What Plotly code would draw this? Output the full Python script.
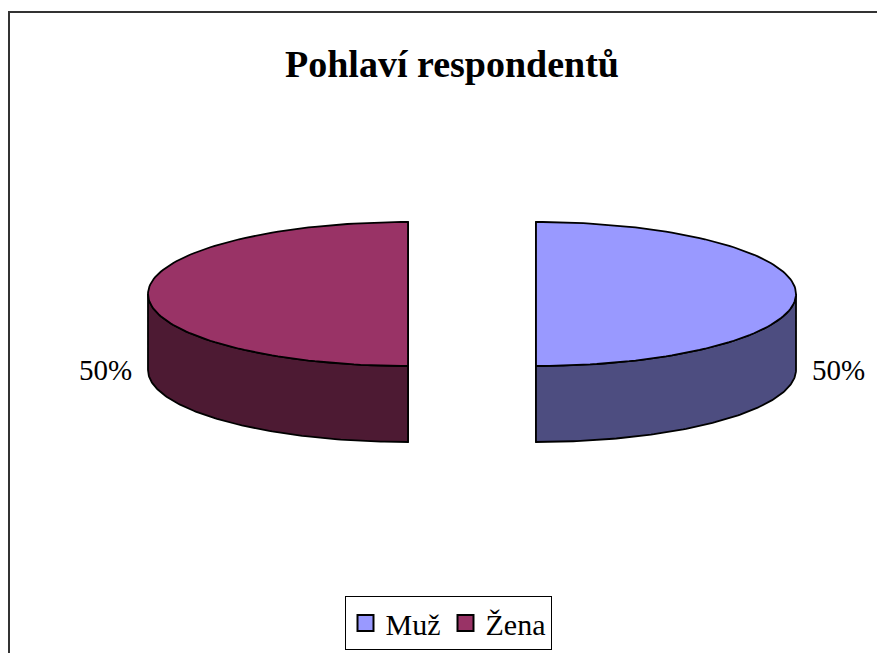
import math
import plotly.graph_objects as go

# ---- data ----
categories = ["Muž", "Žena"]
values = [50, 50]
top_colors = ["#9999FF", "#993366"]
side_colors = ["#4D4D80", "#4D1A33"]
title_text = "Pohlaví respondentů"

# ---- geometry (page pixel space; page has an 8px body margin) ----
W, H = 885, 653
OFF = 8
CX, CY = 472, 294      # pie centre (top face)
RX, RY = 260, 72       # ellipse radii
DEPTH = 76             # thickness
EXPLODE = 64           # explode distance (horizontal units)
FONT = "Liberation Serif, Times New Roman, serif"

total = sum(values)
fig = go.Figure()


def pt(cx, cy, th, dz=0.0):
    return cx + RX * math.sin(th), cy - RY * math.cos(th) + dz


def arc(cx, cy, a0, a1, dz=0.0, n=120):
    xs, ys = [], []
    for i in range(n + 1):
        t = a0 + (a1 - a0) * i / n
        x, y = pt(cx, cy, t, dz)
        xs.append(x)
        ys.append(y)
    return xs, ys


annotations = []
start = 0.0
for cat, v, tc, sc in zip(categories, values, top_colors, side_colors):
    frac = v / total
    a0 = start * 2 * math.pi
    a1 = (start + frac) * 2 * math.pi
    mid = (a0 + a1) / 2
    start += frac
    cx = CX + EXPLODE * math.sin(mid)
    cy = CY - EXPLODE * RY / RX * math.cos(mid)

    # radial faces
    for a in (a0, a1):
        ex, ey = pt(cx, cy, a)
        fig.add_trace(go.Scatter(
            x=[cx, ex, ex, cx, cx], y=[cy, ey, ey + DEPTH, cy + DEPTH, cy],
            mode="lines", fill="toself", fillcolor=sc,
            line=dict(color="black", width=1.8), hoverinfo="skip", showlegend=False))

    # front outer wall
    lo, hi = max(a0, math.pi / 2), min(a1, 3 * math.pi / 2)
    if hi > lo:
        tx, ty = arc(cx, cy, lo, hi)
        bx, by = arc(cx, cy, lo, hi, DEPTH)
        fig.add_trace(go.Scatter(
            x=tx + bx[::-1] + [tx[0]], y=ty + by[::-1] + [ty[0]],
            mode="lines", fill="toself", fillcolor=sc,
            line=dict(color="black", width=1.8), hoverinfo="skip", showlegend=False))

    # top face
    tx, ty = arc(cx, cy, a0, a1)
    fig.add_trace(go.Scatter(
        x=[cx] + tx + [cx], y=[cy] + ty + [cy],
        mode="lines", fill="toself", fillcolor=tc,
        line=dict(color="black", width=1.8), hoverinfo="skip", showlegend=False))

    # data label
    lx, ly = pt(cx, cy, mid, DEPTH)
    right = math.sin(mid) >= 0
    annotations.append(dict(
        x=lx + (14 if right else -14), y=ly, xref="x", yref="y",
        text=f"{round(frac * 100)}%", showarrow=False,
        xanchor="left" if right else "right", yanchor="middle",
        font=dict(family=FONT, size=29, color="black")))

# legend entries
for cat, tc in zip(categories, top_colors):
    fig.add_trace(go.Scatter(
        x=[None], y=[None], mode="markers", name=cat,
        marker=dict(symbol="square", size=16, color=tc,
                    line=dict(color="black", width=2))))

annotations.append(dict(
    x=452, y=64, xref="x", yref="y", text=f"<b>{title_text}</b>",
    showarrow=False, xanchor="center", yanchor="middle",
    font=dict(family=FONT, size=38, color="black")))

fig.update_layout(
    width=W, height=H,
    margin=dict(l=0, r=0, t=0, b=0),
    paper_bgcolor="white", plot_bgcolor="white",
    xaxis=dict(range=[OFF, W + OFF], visible=False, fixedrange=True),
    yaxis=dict(range=[H + OFF, OFF], visible=False, fixedrange=True),
    annotations=annotations,
    showlegend=True,
    legend=dict(orientation="h", x=(448 - OFF) / W, xanchor="center",
                y=(653 - 650 + OFF) / H, yanchor="bottom",
                bordercolor="black", borderwidth=1, bgcolor="white",
                font=dict(family=FONT, size=30, color="black"),
                itemsizing="trace", itemwidth=30),
    shapes=[dict(type="rect", xref="paper", yref="paper",
                 x0=(9 - OFF) / W, x1=1.05, y0=-0.05, y1=1 - (12 - OFF) / H,
                 line=dict(color="#333333", width=2), layer="below")],
)

fig.write_html("out.html")
